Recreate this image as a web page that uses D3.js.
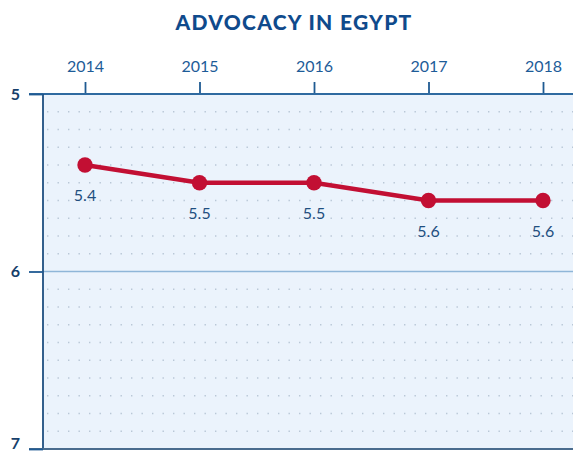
<!DOCTYPE html>
<html>
<head>
<meta charset="utf-8">
<script src="https://cdn.jsdelivr.net/npm/d3@7"></script>
<style>
  html, body { margin: 0; padding: 0; background: #ffffff; }
  svg { display: block; }
</style>
</head>
<body>
<svg id="chart" width="573" height="451"></svg>
<script>
// Advocacy score for Egypt, by year (lower is better, axis runs 5 at top to 7 at bottom)
const years = ["2014", "2015", "2016", "2017", "2018"];
const scores = [5.4, 5.5, 5.5, 5.6, 5.6];
const yTicks = [5, 6, 7];
const title = "ADVOCACY IN EGYPT";

const W = 573, H = 451;
const plot = { left: 43, top: 94, right: 580, bottom: 449 };

const svg = d3.select("#chart");

const x = d3.scalePoint().domain(years).range([85, 543]);
const y = d3.scaleLinear().domain([5, 7]).range([plot.top, plot.bottom]);

// title
svg.append("text")
  .attr("x", 294).attr("y", 30)
  .attr("text-anchor", "middle")
  .attr("font-family", "Lato, 'Open Sans', sans-serif")
  .attr("font-weight", 900)
  .attr("font-size", 21)
  .attr("letter-spacing", 1.3)
  .attr("fill", "#0f4a8c")
  .text(title);

// plot background
svg.append("rect")
  .attr("x", plot.left).attr("y", plot.top)
  .attr("width", plot.right - plot.left).attr("height", plot.bottom - plot.top)
  .attr("fill", "#ebf3fc");

// dotted minor grid every 0.1
const minor = d3.range(51, 70).map(v => v / 10).filter(v => Math.abs(v - 6) > 1e-6);
svg.append("g").selectAll("line").data(minor).join("line")
  .attr("x1", plot.left + 4).attr("x2", W)
  .attr("y1", d => y(d)).attr("y2", d => y(d))
  .attr("stroke", "#b9c7d6")
  .attr("stroke-width", 1.4)
  .attr("stroke-dasharray", "1.4,9.1");

// major gridline at 6
svg.append("line")
  .attr("x1", plot.left).attr("x2", W)
  .attr("y1", y(6)).attr("y2", y(6))
  .attr("stroke", "#8fb6d8").attr("stroke-width", 1.6);

// top axis (years)
const xAxis = svg.append("g")
  .attr("transform", `translate(0,${plot.top})`)
  .call(d3.axisTop(x).tickSize(12).tickPadding(10));
xAxis.select(".domain").remove();
xAxis.selectAll(".tick line").attr("stroke", "#1f5a92").attr("stroke-width", 1.8);
xAxis.selectAll(".tick text")
  .attr("font-family", "Lato, 'Open Sans', sans-serif")
  .attr("font-size", 16)
  .attr("fill", "#1d5c98");

// frame lines: top, left, bottom
svg.append("line")
  .attr("x1", 29).attr("x2", W).attr("y1", plot.top).attr("y2", plot.top)
  .attr("stroke", "#2f6aa0").attr("stroke-width", 1.8);
svg.append("line")
  .attr("x1", plot.left).attr("x2", plot.left).attr("y1", plot.top).attr("y2", plot.bottom)
  .attr("stroke", "#1f4f80").attr("stroke-width", 1.8);
svg.append("line")
  .attr("x1", 29).attr("x2", W).attr("y1", plot.bottom).attr("y2", plot.bottom)
  .attr("stroke", "#4a6c8e").attr("stroke-width", 2.2);

// left axis (scores)
const yAxis = svg.append("g")
  .attr("transform", `translate(${plot.left},0)`)
  .call(d3.axisLeft(y).tickValues(yTicks).tickSize(14).tickPadding(9).tickFormat(d3.format("d")));
yAxis.select(".domain").remove();
yAxis.selectAll(".tick line").attr("stroke", "#1f5a92").attr("stroke-width", 1.8);
yAxis.selectAll(".tick text")
  .attr("font-family", "Lato, 'Open Sans', sans-serif")
  .attr("font-weight", 700)
  .attr("font-size", 16)
  .attr("fill", "#173f6b");
// keep the bottom tick label inside the canvas
yAxis.selectAll(".tick text").filter(d => d === 7).attr("dy", "-0.05em");

// series line
const data = years.map((yr, i) => ({ yr, v: scores[i] }));
svg.append("path")
  .datum(data)
  .attr("fill", "none")
  .attr("stroke", "#c20f33")
  .attr("stroke-width", 4.5)
  .attr("d", d3.line().x(d => x(d.yr)).y(d => y(d.v)));

svg.append("g").selectAll("circle").data(data).join("circle")
  .attr("cx", d => x(d.yr)).attr("cy", d => y(d.v))
  .attr("r", 7.7)
  .attr("fill", "#c20f33");

// value labels
svg.append("g").selectAll("text").data(data).join("text")
  .attr("x", d => x(d.yr)).attr("y", d => y(d.v) + 36)
  .attr("text-anchor", "middle")
  .attr("font-family", "Lato, 'Open Sans', sans-serif")
  .attr("font-size", 16)
  .attr("fill", "#1f4f80")
  .text(d => d3.format(".1f")(d.v));
</script>
</body>
</html>
